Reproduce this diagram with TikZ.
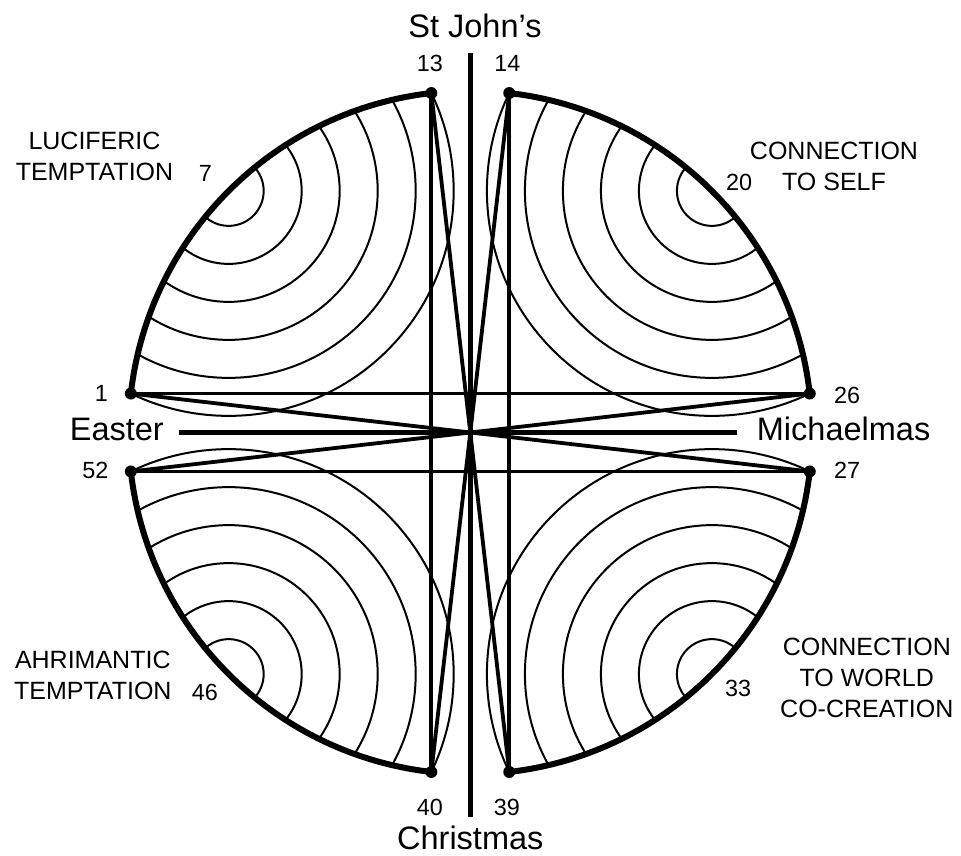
\documentclass[tikz,border=0pt]{standalone}
\usepackage{fontspec}
\setmainfont{Liberation Sans}
\begin{document}
\begin{tikzpicture}[x=1pt,y=1pt,
  thickarc/.style={line width=6pt},
  chord/.style={line width=3.8pt},
  axisline/.style={line width=4.6pt},
  ring/.style={line width=2pt},
  dot/.style={circle,fill,inner sep=0pt,minimum size=12pt},
  num/.style={font=\fontsize{23.4}{28}\selectfont,inner sep=0pt},
  caps/.style={font=\fontsize{25}{31}\selectfont,inner sep=0pt,align=center},
  big/.style={font=\fontsize{32.5}{38}\selectfont,inner sep=0pt}]
\def\R{341.7pt}
\useasboundingbox (-470.3,-422.5) rectangle (490.7,432.5);

% concentric rings, clipped to the year circle
\begin{scope}
  \clip (0,0) circle[radius=\R];
  \foreach \a in {135,45,-45,-135}{
    \foreach \r in {35,73,111,149,187,225}{
      \draw[ring] (\a:\R) circle[radius=\r pt];
    }
  }
\end{scope}

% points
\node[dot] (p1)  at (173.45:\R) {};
\node[dot] (p13) at (96.55:\R) {};
\node[dot] (p14) at (83.45:\R) {};
\node[dot] (p26) at (6.55:\R) {};
\node[dot] (p27) at (-6.55:\R) {};
\node[dot] (p39) at (-83.45:\R) {};
\node[dot] (p40) at (-96.55:\R) {};
\node[dot] (p52) at (-173.45:\R) {};

% thick arcs
\draw[thickarc] (p1.center) arc[start angle=173.45, end angle=96.55, radius=\R];
\draw[thickarc] (p14.center) arc[start angle=83.45, end angle=6.55, radius=\R];
\draw[thickarc] (p27.center) arc[start angle=-6.55, end angle=-83.45, radius=\R];
\draw[thickarc] (p40.center) arc[start angle=-96.55, end angle=-173.45, radius=\R];

% chords
\draw[chord] (p1.center) -- (p26.center);
\draw[chord] (p52.center) -- (p27.center);
\draw[chord] (p13.center) -- (p40.center);
\draw[chord] (p14.center) -- (p39.center);
\draw[chord] (p1.center) -- (p27.center);
\draw[chord] (p52.center) -- (p26.center);
\draw[chord] (p13.center) -- (p39.center);
\draw[chord] (p14.center) -- (p40.center);

% axes
\coordinate (vt) at (0,379.2);
\coordinate (vb) at (0,-384.8);
\coordinate (hl) at (-291.3,0);
\coordinate (hr) at (266.4,0);
\draw[axisline] (vt) -- (vb);
\draw[axisline] (hl) -- (hr);

% big labels
\node[big,anchor=base] (stj) at (4.7,395.2) {St John’s};
\node[big,anchor=base] (chr) at (0,-416.8) {Christmas};
\node[big,anchor=base east] (eas) at (-306.3,-8.2) {Easter};
\node[big,anchor=base west] (mic) at (286.4,-8.2) {Michaelmas};

% numbers
\node[num,anchor=base] (n13) at (-40.3,360.8) {13};
\node[num,anchor=base] (n14) at (37.2,360.8) {14};
\node[num,anchor=base] (n40) at (-40.3,-382.5) {40};
\node[num,anchor=base] (n39) at (36.7,-382.5) {39};
\node[num,anchor=base east] (n1) at (-362.3,31.5) {1};
\node[num,anchor=base east] (n52) at (-361.8,-45.8) {52};
\node[num,anchor=base west] (n26) at (363.7,29.5) {26};
\node[num,anchor=base west] (n27) at (363.7,-45.8) {27};
\node[num,anchor=base] (n7) at (-264.8,251.5) {7};
\node[num,anchor=base] (n20) at (268.9,242.5) {20};
\node[num,anchor=base] (n46) at (-265.3,-267.5) {46};
\node[num,anchor=base] (n33) at (267.9,-264.2) {33};

% caption labels
\node[caps] (luc) at (-375.8,276.6) {LUCIFERIC\\TEMPTATION};
\node[caps] (self) at (363.7,266.6) {CONNECTION\\TO SELF};
\node[caps] (ahr) at (-377.5,-242.5) {AHRIMANTIC\\TEMPTATION};
\node[caps] (world) at (396.5,-245) {CONNECTION\\TO WORLD\\CO-CREATION};
\end{tikzpicture}
\end{document}
